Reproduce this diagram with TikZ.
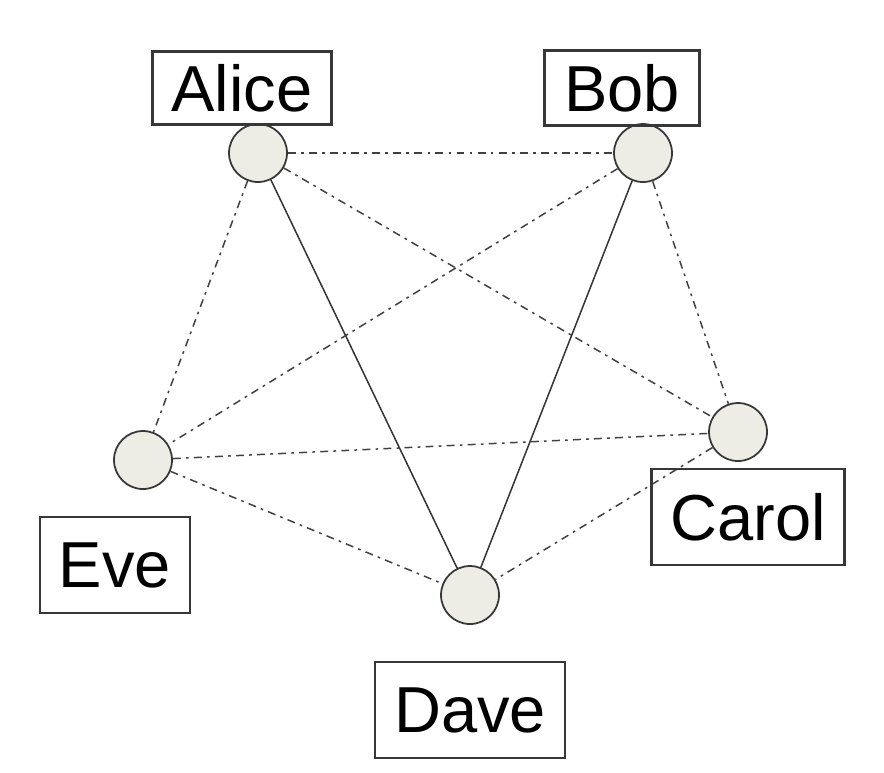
\documentclass[tikz,border=0pt]{standalone}
\usepackage{fontspec}
\setmainfont{Liberation Sans}
\definecolor{peerfill}{RGB}{237, 237, 229}
\definecolor{peerline}{RGB}{55, 55, 55}
\usetikzlibrary{positioning}

\begin{document}
\begin{tikzpicture}[x=0.02cm, y=-0.02cm,
    peer/.style={circle, draw=peerline, fill=peerfill, line width=1pt, minimum size=1.16cm, inner sep=0pt},
    namebox/.style={draw=peerline, line width=1.3pt, minimum height=1.5cm, inner sep=0pt, font=\fontsize{37}{44}\selectfont},
    trust/.style={draw=black!80, line width=0.85pt},
    weak/.style={draw=black!75, line width=0.85pt, dash pattern=on 4.5pt off 3pt on 1.5pt off 3pt}]
  \useasboundingbox (0,0) rectangle (884,772);
  % Peers
  \node[peer] (alice) at (258, 153) {};
  \node[peer] (bob) at (643, 153) {};
  \node[peer] (carol) at (738, 432) {};
  \node[peer] (eve) at (143, 460) {};
  \node[peer] (dave) at (470, 595) {};
  % Name boxes
  \node[namebox, minimum width=3.58cm, minimum height=1.46cm] (alicebox) at (242, 88) {Alice};
  \node[namebox, minimum width=3.1cm] (bobbox) at (622, 88) {Bob};
  \node[namebox, minimum width=3.86cm, minimum height=1.92cm] (carolbox) at (748, 517) {Carol};
  \node[namebox, minimum width=3.0cm, minimum height=1.92cm] (evebox) at (115, 565) {Eve};
  \node[namebox, minimum width=3.8cm, minimum height=1.92cm] (davebox) at (470, 710) {Dave};
  % Links
  \draw[weak] (alice) -- (bob);
  \draw[weak] (alice) -- (eve);
  \draw[weak] (alice) -- (carol);
  \draw[trust] (alice) -- (dave);
  \draw[weak] (bob) -- (eve);
  \draw[weak] (bob) -- (carol);
  \draw[trust] (bob) -- (dave);
  \draw[weak] (eve) -- (carol);
  \draw[weak] (eve) -- (dave);
  \draw[weak] (carol) -- (dave);
\end{tikzpicture}
\end{document}
